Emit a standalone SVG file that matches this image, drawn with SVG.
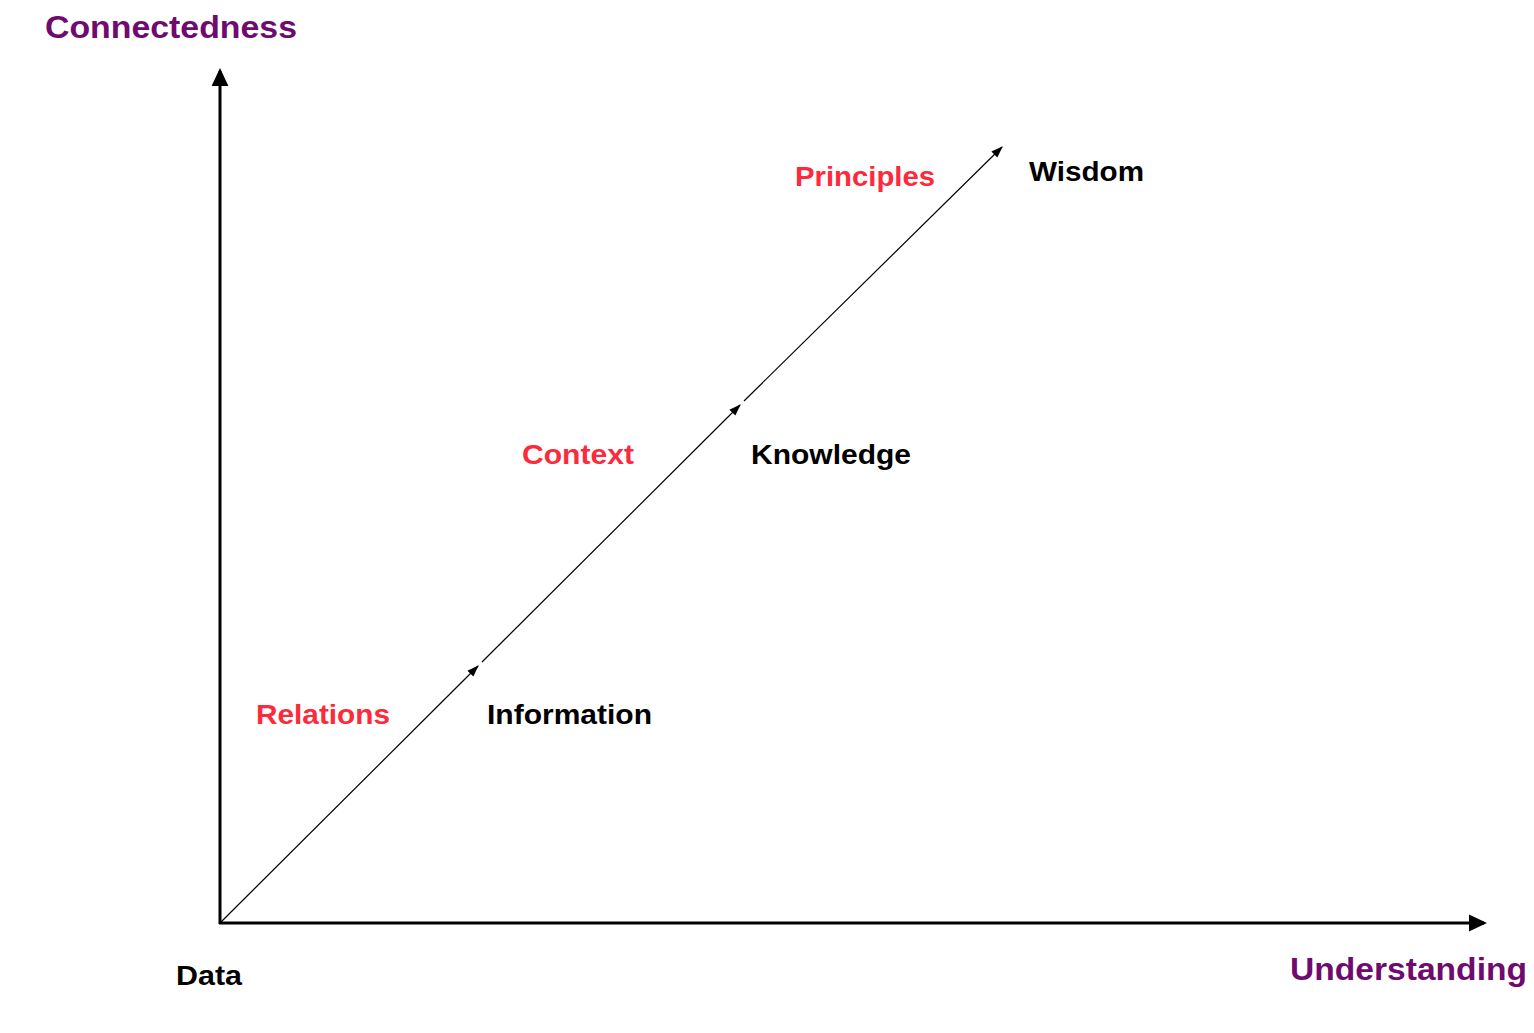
<svg xmlns="http://www.w3.org/2000/svg" width="1534" height="1033" viewBox="0 0 1534 1033">
<style>
.axis{stroke:#000;stroke-width:3;fill:none}
.diag{stroke:#000;stroke-width:1.2;fill:none}
.t{font-family:"Liberation Sans",Arial,sans-serif;font-weight:bold}
.ax{fill:#6f0a6f;font-size:32px}
.node{fill:#000;font-size:28px}
.lab{fill:#fc2a3a;font-size:28px}
</style>
<defs>
<marker id="big" markerWidth="6" markerHeight="6" refX="5" refY="3" orient="auto" markerUnits="strokeWidth"><path d="M0,0.2 L6,3 L0,5.8 Z" fill="#000"/></marker>
<marker id="small" markerWidth="10" markerHeight="8" refX="9" refY="4" orient="auto" markerUnits="strokeWidth"><path d="M0,0.5 L10,4 L0,7.5 Z" fill="#000"/></marker>
</defs>
<g id="connectors">
<line class="axis" x1="220" y1="924" x2="220" y2="71" marker-end="url(#big)"/>
<line class="axis" x1="219" y1="923" x2="1484" y2="923" marker-end="url(#big)"/>
<line class="diag" x1="220" y1="923" x2="478" y2="666" marker-end="url(#small)"/>
<line class="diag" x1="482" y1="662" x2="740" y2="405" marker-end="url(#small)"/>
<line class="diag" x1="744" y1="401" x2="1002" y2="147" marker-end="url(#small)"/>
</g>
<g id="axis-y"><text class="t ax" x="45" y="38" textLength="252" lengthAdjust="spacingAndGlyphs">Connectedness</text></g>
<g id="axis-x"><text class="t ax" x="1290" y="980" textLength="237" lengthAdjust="spacingAndGlyphs">Understanding</text></g>
<g id="data"><text class="t node" x="176" y="985" textLength="66" lengthAdjust="spacingAndGlyphs">Data</text></g>
<g id="information"><text class="t node" x="487" y="724" textLength="165" lengthAdjust="spacingAndGlyphs">Information</text></g>
<g id="knowledge"><text class="t node" x="751" y="464" textLength="160" lengthAdjust="spacingAndGlyphs">Knowledge</text></g>
<g id="wisdom"><text class="t node" x="1029" y="181" textLength="115" lengthAdjust="spacingAndGlyphs">Wisdom</text></g>
<g id="relations"><text class="t lab" x="256" y="724" textLength="134" lengthAdjust="spacingAndGlyphs">Relations</text></g>
<g id="context"><text class="t lab" x="522" y="464" textLength="112" lengthAdjust="spacingAndGlyphs">Context</text></g>
<g id="principles"><text class="t lab" x="795" y="186" textLength="140" lengthAdjust="spacingAndGlyphs">Principles</text></g>
</svg>
